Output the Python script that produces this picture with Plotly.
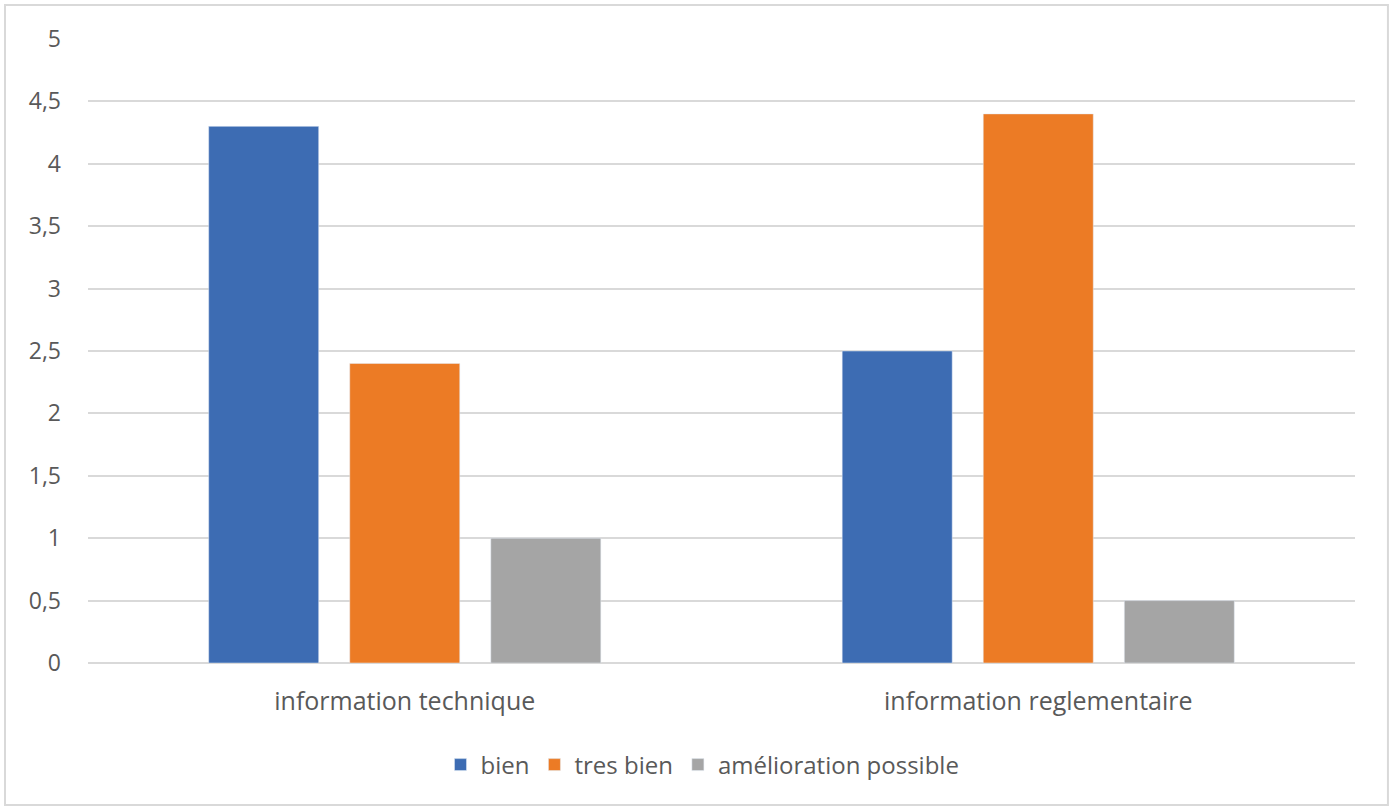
import plotly.graph_objects as go

categories = ["information technique", "information reglementaire"]
bien = [4.3, 2.5]
tres_bien = [2.4, 4.4]
amelioration = [1, 0.5]
y_ticks = [0, 0.5, 1, 1.5, 2, 2.5, 3, 3.5, 4, 4.5, 5]
y_tick_labels = ["0", "0,5", "1", "1,5", "2", "2,5", "3", "3,5", "4", "4,5", "5"]

font_family = "Open Sans, DejaVu Sans, sans-serif"
text_color = "#595959"

fig = go.Figure()
fig.add_trace(go.Bar(name="bien", x=categories, y=bien, marker_color="#3d6cb3"))
fig.add_trace(go.Bar(name="tres bien", x=categories, y=tres_bien, marker_color="#ec7b25"))
fig.add_trace(go.Bar(name="amélioration possible", x=categories, y=amelioration, marker_color="#a5a5a5"))

fig.update_layout(
    width=1394, height=809,
    barmode="group", bargap=0.332, bargroupgap=0.22,
    plot_bgcolor="white", paper_bgcolor="white",
    margin=dict(l=88, r=39, t=39, b=146),
    font=dict(family=font_family, size=23, color=text_color),
    showlegend=True,
    legend=dict(orientation="h", x=0.485, xanchor="center", y=-0.1635, yanchor="middle",
                font=dict(size=24, color=text_color), itemwidth=30, traceorder="normal"),
    shapes=[dict(type="rect", xref="paper", yref="paper", x0=-0.0655, x1=1.026, y0=-0.2276, y1=1.0545,
                 line=dict(color="#d9d9d9", width=2), fillcolor="rgba(0,0,0,0)")],
)
fig.update_xaxes(showgrid=False, showline=False, ticks="", ticklabelstandoff=21,
                 tickfont=dict(size=25, color=text_color))
fig.update_yaxes(range=[0, 5], tickvals=y_ticks, ticktext=y_tick_labels, showgrid=True,
                 gridcolor="#d9d9d9", gridwidth=1.5, zeroline=True, zerolinecolor="#d9d9d9",
                 zerolinewidth=1.5, showline=False, ticks="", ticklabelstandoff=26,
                 tickfont=dict(size=23, color=text_color))

fig.write_html("out.html", config={"displayModeBar": False},
               post_script="document.body.style.margin='0';")
